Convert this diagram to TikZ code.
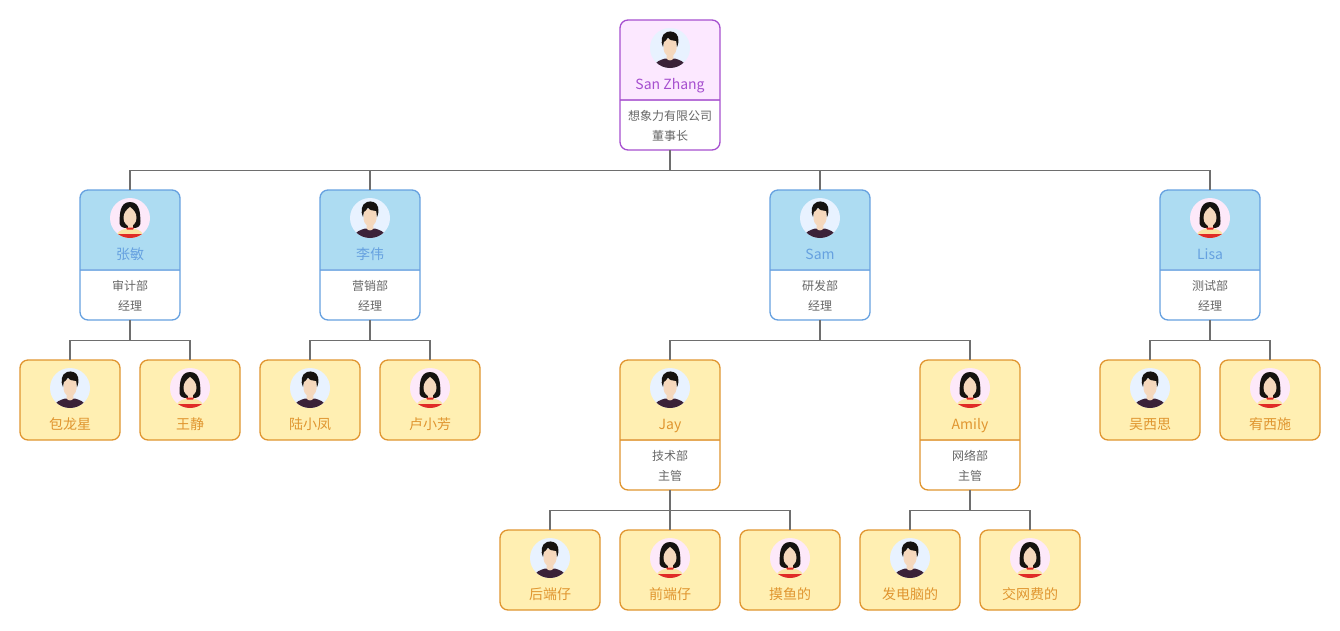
\documentclass[tikz,border=0pt]{standalone}
\usepackage{fontspec}
\setmainfont{Noto Sans CJK SC}
\usetikzlibrary{calc}
\definecolor{bosspale}{HTML}{FCE8FF}
\definecolor{bossline}{HTML}{A64FCF}
\definecolor{headpale}{HTML}{ADDCF2}
\definecolor{headline}{HTML}{66A1E0}
\definecolor{staffpale}{HTML}{FFEFB2}
\definecolor{staffline}{HTML}{E0952F}
\definecolor{linkgrey}{HTML}{6E6E6E}
\definecolor{infogrey}{HTML}{666666}
\definecolor{malebg}{HTML}{E8F2FF}
\definecolor{femalebg}{HTML}{FDE9F9}
\definecolor{skin}{HTML}{F5D8BD}
\definecolor{hairblack}{HTML}{151210}
\definecolor{shirtdark}{HTML}{3B2238}
\definecolor{dressred}{HTML}{E02B26}
\definecolor{dressgold}{HTML}{FBE3A2}

\begin{document}
\begin{tikzpicture}[x=1pt, y=-1pt,
  font=\fontsize{12}{14}\selectfont,
  link/.style={draw=linkgrey, line width=1.4pt},
  card/.style={line width=1.3pt, rounded corners=8pt, minimum width=100pt,
               inner sep=0pt, outer sep=0pt},
  leafcard/.style={card, draw=staffline, fill=staffpale, minimum height=80pt},
  % white card, coloured upper part #1, rule #2
  fullcard/.style 2 args={card, draw=#2, fill=white, minimum height=130pt,
    path picture={
      \fill[#1, sharp corners] (path picture bounding box.north west) rectangle
        ([yshift=-80pt]path picture bounding box.north east);
      \draw[#2!80!white, line width=1.3pt, sharp corners] ([yshift=-80pt]path picture bounding box.north west) --
        ([yshift=-80pt]path picture bounding box.north east);}},
  bosscard/.style={fullcard={bosspale}{bossline}},
  headcard/.style={fullcard={headpale}{headline}},
  midcard/.style={fullcard={staffpale}{staffline}},
  nametext/.style={font=\fontsize{14}{16}\selectfont, inner sep=0pt, anchor=base},
  infotext/.style={font=\fontsize{12}{14}\selectfont, text=infogrey, inner sep=0pt, anchor=base},
  man/.pic={
    \begin{scope}
    \clip (0,0) circle (20);
    \fill[malebg] (-20,-20) rectangle (20,20);
    \fill[shirtdark] (-17,20) .. controls (-15,13) and (-9,12) .. (-5,10.5)
      -- (5,10.5) .. controls (9,12) and (15,13) .. (17,20) -- cycle;
    \fill[skin] (-3,4) -- (3,4) -- (3.5,10.5) .. controls (2,13) and (-2,13) .. (-3.5,10.5) -- cycle;
    \fill[skin] (-6.5,-9) -- (6.5,-9) -- (6.5,1) .. controls (6,6) and (2,8.5) .. (0,8.5)
      .. controls (-2,8.5) and (-6,6) .. (-6.5,1) -- cycle;
    \fill[hairblack] (-7,-1) .. controls (-9.5,-6) and (-9,-14) .. (-3,-16)
      .. controls (1,-17.5) and (7,-16) .. (8,-11) .. controls (9,-7) and (8,-3) .. (7,-1)
      -- (6.2,-7) .. controls (3,-7) and (-1,-8) .. (-2,-10.5)
      .. controls (-3,-7.5) and (-5.5,-7) .. (-6.2,-6) -- cycle;
    \end{scope}},
  woman/.pic={
    \begin{scope}
    \clip (0,0) circle (20);
    \fill[femalebg] (-20,-20) rectangle (20,20);
    \fill[hairblack] (-4,10) .. controls (-8,10) and (-11,8) .. (-10.5,3)
      .. controls (-10,-2) and (-11,-16) .. (0,-16)
      .. controls (11,-16) and (10,-2) .. (10.5,3)
      .. controls (11,8) and (8,10) .. (4,10) -- cycle;
    \fill[dressgold] (-14,20) .. controls (-14,14) and (-9,12) .. (-4,10.5)
      -- (4,10.5) .. controls (9,12) and (14,14) .. (14,20) -- cycle;
    \fill[dressred] (-20,15.5) -- (20,15.5) -- (20,20) -- (-20,20) -- cycle;
    \fill[skin] (-2.5,4) -- (2.5,4) -- (2.5,10.5) -- (-2.5,10.5) -- cycle;
    \fill[skin] (0,-11) .. controls (4,-8) and (6.5,-5) .. (6.5,0)
      .. controls (6.5,5) and (2.5,8.5) .. (0,8.5)
      .. controls (-2.5,8.5) and (-6.5,5) .. (-6.5,0)
      .. controls (-6.5,-5) and (-4,-8) .. (0,-11) -- cycle;
    \fill[dressred] (-4,9.5) -- (4,9.5) -- (3,11.5) -- (-3,11.5) -- cycle;
    \end{scope}}
]
\useasboundingbox (0,0) rectangle (1340,630);

% Top card and department heads.
\node[bosscard] (sanzhang) at (670,85) {};
\foreach \n/\x in {zhangmin/130, liwei/370, sam/820, lisa/1210}
  \node[headcard] (\n) at (\x,255) {};

% Team leads with people under them.
\foreach \n/\x in {jay/670, amily/970}
  \node[midcard] (\n) at (\x,425) {};

% Staff, second row.
\foreach \n/\x in {baolongxing/70, wangjing/190, luxiaofeng/310, luxiaofang/430,
                   wuxisi/1150, youxishi/1270}
  \node[leafcard] (\n) at (\x,400) {};

% Staff, bottom row.
\foreach \n/\x in {houduan/550, qianduan/670, moyu/790, fadiannao/910, jiaowangfei/1030}
  \node[leafcard] (\n) at (\x,570) {};

% Tree links.
\foreach \p/\c in {sanzhang/zhangmin, sanzhang/liwei, sanzhang/sam, sanzhang/lisa,
                   zhangmin/baolongxing, zhangmin/wangjing,
                   liwei/luxiaofeng, liwei/luxiaofang,
                   sam/jay, sam/amily,
                   lisa/wuxisi, lisa/youxishi,
                   jay/houduan, jay/qianduan, jay/moyu,
                   amily/fadiannao, amily/jiaowangfei}
  \draw[link] (\p.south) -- ++(0,20.5) -| (\c.north);

% Faces.
\foreach \n in {sanzhang, liwei, sam, baolongxing, luxiaofeng, jay, wuxisi, houduan, fadiannao}
  \pic at ($(\n.north)+(0,28)$) {man};
\foreach \n in {zhangmin, lisa, wangjing, luxiaofang, amily, youxishi, qianduan, moyu, jiaowangfei}
  \pic at ($(\n.north)+(0,28)$) {woman};

% Names.
\node[nametext, text=bossline] (sanzhangname) at ($(sanzhang.north)+(0,69)$) {San Zhang};
\foreach \n/\lab in {zhangmin/张敏, liwei/李伟, sam/Sam, lisa/Lisa}
  \node[nametext, text=headline] (\n name) at ($(\n.north)+(0,69)$) {\lab};
\foreach \n/\lab in {jay/Jay, amily/Amily, baolongxing/包龙星, wangjing/王静,
                     luxiaofeng/陆小凤, luxiaofang/卢小芳, wuxisi/吴西思, youxishi/宥西施,
                     houduan/后端仔, qianduan/前端仔, moyu/摸鱼的,
                     fadiannao/发电脑的, jiaowangfei/交网费的}
  \node[nametext, text=staffline] (\n name) at ($(\n.north)+(0,69)$) {\lab};

% Department and post.
\foreach \n/\dept/\post in {sanzhang/想象力有限公司/董事长, zhangmin/审计部/经理, liwei/营销部/经理,
                            sam/研发部/经理, lisa/测试部/经理, jay/技术部/主管, amily/网络部/主管} {
  \node[infotext] (\n dept) at ($(\n.north)+(0,100)$) {\dept};
  \node[infotext] (\n post) at ($(\n.north)+(0,120)$) {\post};
}
\end{tikzpicture}
\end{document}
